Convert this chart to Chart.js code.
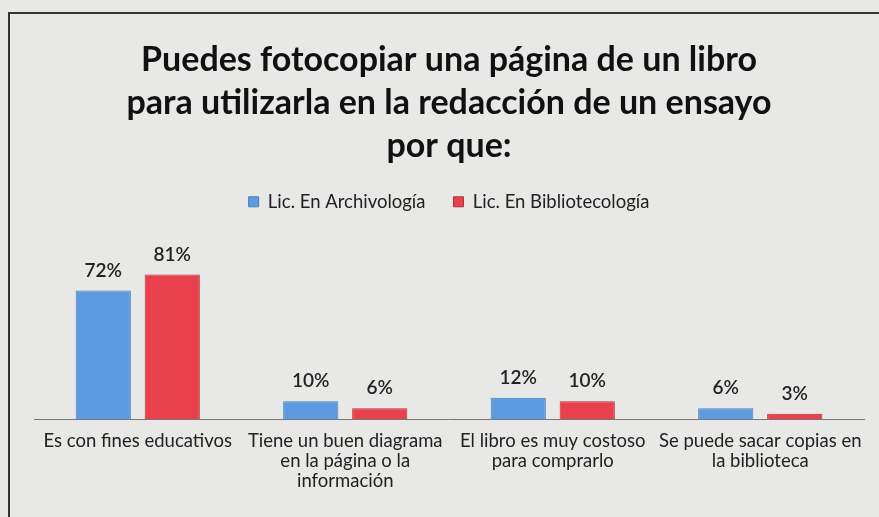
<!DOCTYPE html>
<html>
<head>
<meta charset="utf-8">
<script src="https://cdn.jsdelivr.net/npm/chart.js@4.4.0/dist/chart.umd.min.js"></script>
<style>
  html, body { margin: 0; padding: 0; background: #e8e8e7; }
  #wrap { position: relative; width: 879px; height: 517px; }
  #frame { position: absolute; left: 8px; top: 12px; width: 880px; height: 520px;
           border-top: 2px solid #333; border-left: 2px solid #333; }
  canvas { position: absolute; left: 0; top: 0; }
</style>
</head>
<body>
<div id="wrap">
  <div id="frame"></div>
  <canvas id="chart" width="879" height="517"></canvas>
</div>
<script>
const categories = [
  "Es con fines educativos",
  ["Tiene un buen diagrama", "en la página o la", "información"],
  ["El libro es muy costoso", "para comprarlo"],
  ["Se puede sacar copias en", "la biblioteca"]
];
const archivologia = [72, 10, 12, 6];
const bibliotecologia = [81, 6, 10, 3];
const seriesNames = ["Lic. En Archivología", "Lic. En Bibliotecología"];
const titleLines = [
  "Puedes fotocopiar una página de un libro",
  "para utilizarla en la redacción de un ensayo",
  "por que:"
];

// etiquetas de porcentaje encima de cada barra
const valueLabels = {
  id: 'valueLabels',
  afterDatasetsDraw(chart) {
    const ctx = chart.ctx;
    ctx.save();
    ctx.font = '600 19px Lato';
    ctx.fillStyle = '#222';
    ctx.textAlign = 'center';
    ctx.textBaseline = 'middle';
    chart.data.datasets.forEach((ds, i) => {
      chart.getDatasetMeta(i).data.forEach((bar, j) => {
        ctx.fillText(ds.data[j] + '%', bar.x, bar.y - 20);
      });
    });
    ctx.restore();
  }
};

new Chart(document.getElementById('chart').getContext('2d'), {
  type: 'bar',
  data: {
    labels: categories,
    datasets: [{
      label: seriesNames[0],
      data: archivologia,
      backgroundColor: '#5d9be0',
      borderColor: '#4a7fb8',
      borderWidth: 1,
      categoryPercentage: 0.665,
      barPercentage: 0.8
    }, {
      label: seriesNames[1],
      data: bibliotecologia,
      backgroundColor: '#e8404c',
      borderColor: '#b8303a',
      borderWidth: 1,
      categoryPercentage: 0.665,
      barPercentage: 0.8
    }]
  },
  options: {
    responsive: false,
    animation: false,
    layout: { padding: { top: 14, left: 34, right: 15, bottom: 14 } },
    plugins: {
      title: {
        display: true,
        text: titleLines,
        color: '#111',
        font: { family: 'Lato', size: 34, weight: 'bold', lineHeight: 1.27 },
        padding: { top: 24, bottom: -3 }
      },
      legend: {
        position: 'top',
        labels: {
          color: '#222',
          font: { family: 'Lato', size: 18.5 },
          boxWidth: 10,
          boxHeight: 10,
          padding: 28
        }
      },
      tooltip: { enabled: false }
    },
    scales: {
      x: {
        grid: { display: false, drawTicks: false },
        border: { display: true, color: '#777', width: 1 },
        ticks: {
          color: '#222',
          padding: 12,
          maxRotation: 0,
          autoSkip: false,
          font: { family: 'Lato', size: 18.5, lineHeight: 1.08 }
        }
      },
      y: {
        display: false,
        min: 0,
        max: 111
      }
    }
  },
  plugins: [valueLabels]
});
</script>
</body>
</html>
